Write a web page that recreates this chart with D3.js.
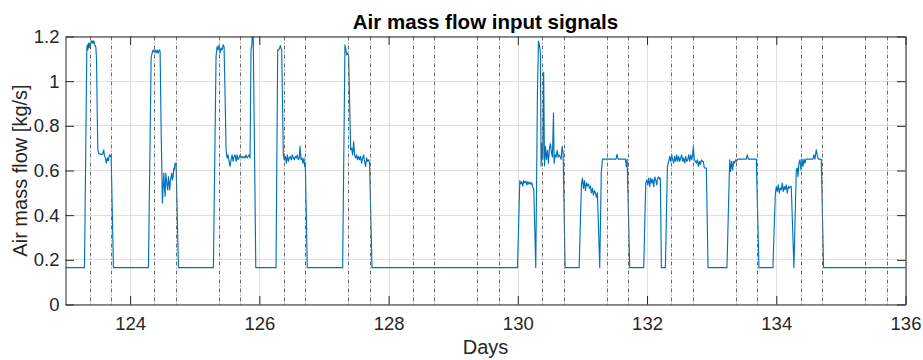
<!DOCTYPE html>
<html>
<head>
<meta charset="utf-8">
<script src="https://cdn.jsdelivr.net/npm/d3@7"></script>
<style>
  html, body { margin: 0; padding: 0; background: #fff; }
  svg { display: block; font-family: "Liberation Sans", Arial, Helvetica, sans-serif; }
</style>
</head>
<body>
<svg id="chart" width="923" height="360"></svg>
<script>
// Time stamps (days) of the air mass flow samples
const sampleDay = [
  123.000, 123.294,
  123.330, 123.338, 123.346, 123.354, 123.361, 123.369, 123.377, 123.385, 123.392, 123.400,
  123.408, 123.415, 123.423, 123.431, 123.439, 123.446, 123.454, 123.462, 123.470, 123.480,
  123.490, 123.500, 123.516, 123.531, 123.547, 123.562, 123.577, 123.593, 123.600, 123.608,
  123.619, 123.627, 123.634, 123.642, 123.650, 123.657, 123.665, 123.672, 123.680, 123.688,
  123.696, 123.706, 123.742, 124.284,
  124.325, 124.340, 124.356, 124.371, 124.387, 124.402, 124.418, 124.433, 124.449, 124.464,
  124.480, 124.500, 124.511, 124.521, 124.531, 124.542, 124.552, 124.562, 124.573, 124.583,
  124.593, 124.604, 124.614, 124.624, 124.635, 124.645, 124.655, 124.666, 124.676, 124.686,
  124.696, 124.712, 124.748, 125.289,
  125.330, 125.346, 125.361, 125.377, 125.392, 125.408, 125.423, 125.439, 125.454, 125.470,
  125.485, 125.501, 125.516, 125.532, 125.547, 125.563, 125.578, 125.594, 125.609, 125.624,
  125.640, 125.655, 125.671, 125.686, 125.702, 125.717, 125.733, 125.748, 125.763, 125.779,
  125.794, 125.810, 125.825, 125.841, 125.856, 125.871, 125.884, 125.894, 125.905, 125.945,
  126.258,
  126.284, 126.299, 126.315, 126.325, 126.335, 126.346, 126.371, 126.387, 126.402, 126.418,
  126.433, 126.449, 126.464, 126.480, 126.495, 126.511, 126.526, 126.541, 126.557, 126.572,
  126.588, 126.603, 126.619, 126.629, 126.645, 126.660, 126.675, 126.691, 126.701, 126.711,
  126.742, 127.289,
  127.325, 127.340, 127.351, 127.366, 127.382, 127.413, 127.428, 127.444, 127.459, 127.475,
  127.490, 127.505, 127.521, 127.536, 127.552, 127.567, 127.583, 127.598, 127.614, 127.629,
  127.644, 127.660, 127.675, 127.691, 127.706, 127.743, 129.995,
  130.031, 130.046, 130.062, 130.077, 130.093, 130.108, 130.124, 130.139, 130.155, 130.170,
  130.185, 130.201, 130.216, 130.232, 130.247, 130.278, 130.304, 130.320, 130.335, 130.350,
  130.360, 130.375, 130.387, 130.400, 130.413, 130.428, 130.443, 130.459, 130.474, 130.490,
  130.505, 130.521, 130.536, 130.552, 130.562, 130.577, 130.593, 130.608, 130.624, 130.639,
  130.655, 130.670, 130.686, 130.701, 130.732, 130.949,
  130.985, 131.000, 131.016, 131.031, 131.047, 131.062, 131.077, 131.093, 131.108, 131.124,
  131.139, 131.155, 131.170, 131.186, 131.201, 131.217, 131.232, 131.268, 131.292, 131.310,
  131.520, 131.536, 131.552, 131.665, 131.680, 131.692, 131.732, 131.949,
  131.980, 131.995, 132.011, 132.026, 132.042, 132.057, 132.073, 132.088, 132.104, 132.119,
  132.134, 132.150, 132.165, 132.181, 132.196, 132.206, 132.222, 132.284,
  132.315, 132.336, 132.351, 132.367, 132.382, 132.398, 132.413, 132.428, 132.444, 132.459,
  132.475, 132.490, 132.506, 132.521, 132.537, 132.552, 132.567, 132.583, 132.598, 132.614,
  132.629, 132.645, 132.660, 132.676, 132.691, 132.706, 132.717, 132.732, 132.748, 132.763,
  132.779, 132.794, 132.810, 132.825, 132.840, 132.856, 132.871, 132.887, 132.902, 132.918,
  132.944, 133.237,
  133.279, 133.294, 133.310, 133.325, 133.340, 133.356, 133.371, 133.387, 133.402, 133.536,
  133.552, 133.567, 133.691, 133.732, 133.948,
  133.985, 134.000, 134.016, 134.031, 134.047, 134.062, 134.078, 134.093, 134.108, 134.124,
  134.139, 134.155, 134.170, 134.186, 134.201, 134.217, 134.232, 134.273,
  134.310, 134.326, 134.336, 134.351, 134.367, 134.382, 134.398, 134.413, 134.429, 134.444,
  134.460, 134.568, 134.583, 134.598, 134.619, 134.634, 134.650, 134.696, 134.732, 136.000
];

// Air mass flow at each sample [kg/s]
const massFlow = [
  0.165, 0.165,
  1.150, 1.160, 1.140, 1.170, 1.150, 1.170, 1.150, 1.160, 1.170, 1.180,
  1.180, 1.170, 1.180, 1.170, 1.180, 1.170, 1.160, 1.160, 1.150, 1.100,
  0.880, 0.693, 0.675, 0.675, 0.672, 0.672, 0.675, 0.693, 0.670, 0.663,
  0.656, 0.640, 0.633, 0.650, 0.656, 0.645, 0.645, 0.660, 0.670, 0.665,
  0.663, 0.670, 0.165, 0.165,
  1.103, 1.126, 1.140, 1.130, 1.140, 1.126, 1.140, 1.125, 1.140, 1.135,
  0.780, 0.454, 0.528, 0.588, 0.528, 0.484, 0.588, 0.558, 0.528, 0.513,
  0.573, 0.543, 0.513, 0.558, 0.573, 0.588, 0.558, 0.573, 0.611, 0.603,
  0.633, 0.626, 0.165, 0.165,
  1.111, 1.155, 1.140, 1.163, 1.126, 1.148, 1.140, 1.163, 1.155, 0.931,
  0.693, 0.656, 0.670, 0.641, 0.618, 0.648, 0.670, 0.641, 0.663, 0.670,
  0.641, 0.670, 0.648, 0.656, 0.670, 0.656, 0.663, 0.656, 0.663, 0.656,
  0.670, 0.656, 0.663, 0.670, 0.656, 1.140, 1.160, 1.220, 1.210, 0.165,
  0.165,
  1.140, 1.140, 1.148, 1.160, 1.148, 1.140, 0.670, 0.648, 0.663, 0.633,
  0.670, 0.641, 0.656, 0.663, 0.648, 0.670, 0.656, 0.648, 0.663, 0.656,
  0.670, 0.648, 0.656, 0.708, 0.648, 0.656, 0.633, 0.656, 0.618, 0.633,
  0.165, 0.165,
  1.163, 1.140, 1.118, 1.126, 1.111, 0.693, 0.700, 0.670, 0.730, 0.670,
  0.656, 0.670, 0.648, 0.663, 0.648, 0.663, 0.633, 0.656, 0.670, 0.641,
  0.618, 0.656, 0.641, 0.648, 0.633, 0.165, 0.165,
  0.555, 0.540, 0.550, 0.530, 0.555, 0.545, 0.552, 0.535, 0.550, 0.540,
  0.548, 0.538, 0.545, 0.525, 0.515, 0.165, 0.950, 1.180, 1.160, 1.126,
  0.620, 0.720, 0.650, 1.040, 0.620, 0.708, 0.650, 0.690, 0.633, 0.700,
  0.720, 0.680, 0.660, 0.857, 0.633, 0.670, 0.660, 0.690, 0.660, 0.670,
  0.660, 0.650, 0.708, 0.680, 0.165, 0.165,
  0.540, 0.566, 0.520, 0.555, 0.510, 0.545, 0.530, 0.540, 0.520, 0.530,
  0.500, 0.520, 0.490, 0.510, 0.500, 0.480, 0.500, 0.165, 0.590, 0.651,
  0.651, 0.672, 0.651, 0.651, 0.618, 0.651, 0.165, 0.165,
  0.544, 0.558, 0.536, 0.566, 0.528, 0.566, 0.544, 0.561, 0.528, 0.571,
  0.558, 0.536, 0.566, 0.571, 0.561, 0.566, 0.165, 0.165,
  0.618, 0.641, 0.663, 0.641, 0.670, 0.648, 0.633, 0.663, 0.641, 0.670,
  0.641, 0.663, 0.641, 0.656, 0.670, 0.641, 0.656, 0.633, 0.663, 0.641,
  0.648, 0.670, 0.641, 0.670, 0.648, 0.670, 0.708, 0.648, 0.641, 0.633,
  0.648, 0.618, 0.641, 0.626, 0.648, 0.641, 0.641, 0.611, 0.611, 0.611,
  0.165, 0.165,
  0.648, 0.596, 0.641, 0.603, 0.641, 0.633, 0.648, 0.641, 0.651, 0.651,
  0.670, 0.651, 0.651, 0.165, 0.165,
  0.491, 0.528, 0.506, 0.536, 0.499, 0.521, 0.514, 0.544, 0.506, 0.528,
  0.514, 0.536, 0.499, 0.528, 0.521, 0.528, 0.528, 0.165,
  0.603, 0.611, 0.573, 0.633, 0.648, 0.603, 0.651, 0.618, 0.651, 0.633,
  0.651, 0.651, 0.670, 0.651, 0.693, 0.670, 0.651, 0.651, 0.165, 0.165
];

// Shift start / end markers (09:00 and 17:00 of each day)
const shiftMarkers = [
  123.375, 123.708, 124.375, 124.708, 125.375, 125.708, 126.375, 126.708,
  127.375, 127.708, 128.375, 128.708, 129.375, 129.708, 130.375, 130.708,
  131.375, 131.708, 132.375, 132.708, 133.375, 133.708, 134.375, 134.708,
  135.375, 135.708
];

const xTicks = [124, 126, 128, 130, 132, 134, 136];
const yTicks = [0, 0.2, 0.4, 0.6, 0.8, 1, 1.2];
const xDomain = [123, 136];
const yDomain = [0, 1.2];

const titleText = "Air mass flow input signals";
const xLabelText = "Days";
const yLabelText = "Air mass flow [kg/s]";

const plot = { left: 65.5, right: 905.5, top: 36.5, bottom: 304.5 };
const axisColor = "#262626";
const tickLen = 8.5;

const svg = d3.select("#chart");

const x = d3.scaleLinear().domain(xDomain).range([plot.left, plot.right]);
const y = d3.scaleLinear().domain(yDomain).range([plot.bottom, plot.top]);

svg.append("defs").append("clipPath").attr("id", "plot-clip")
  .append("rect")
  .attr("x", plot.left).attr("y", plot.top)
  .attr("width", plot.right - plot.left).attr("height", plot.bottom - plot.top);

// Grid
const grid = svg.append("g").attr("stroke", "#dfdfdf").attr("stroke-width", 1);
grid.selectAll("line.gx").data(xTicks).join("line")
  .attr("x1", d => Math.round(x(d)) + 0.5).attr("x2", d => Math.round(x(d)) + 0.5)
  .attr("y1", plot.top).attr("y2", plot.bottom);
grid.selectAll("line.gy").data(yTicks).join("line")
  .attr("class", "gy")
  .attr("x1", plot.left).attr("x2", plot.right)
  .attr("y1", d => Math.round(y(d) - 0.5) + 0.5).attr("y2", d => Math.round(y(d) - 0.5) + 0.5);

// Signal
const series = sampleDay.map((d, i) => [d, massFlow[i]]);
svg.append("path")
  .datum(series)
  .attr("clip-path", "url(#plot-clip)")
  .attr("fill", "none")
  .attr("stroke", "#0072BD")
  .attr("stroke-width", 1.15)
  .attr("stroke-linejoin", "round")
  .attr("d", d3.line().x(d => x(d[0])).y(d => y(d[1])));

// Shift markers
svg.append("g")
  .selectAll("line").data(shiftMarkers).join("line")
  .attr("x1", d => Math.round(x(d)) + 0.5).attr("x2", d => Math.round(x(d)) + 0.5)
  .attr("y1", plot.top).attr("y2", plot.bottom)
  .attr("stroke", "#6a6a6a")
  .attr("stroke-width", 1)
  .attr("stroke-dasharray", "4,2,1,2");

// Axes (ticks point inward, box on all four sides)
function styleAxis(g) {
  g.selectAll("path.domain").attr("stroke", axisColor);
  g.selectAll(".tick line").attr("stroke", axisColor);
  g.selectAll(".tick text").attr("fill", axisColor)
    .style("font-family", "'Liberation Sans', Arial, Helvetica, sans-serif")
    .style("font-size", "18.5px");
}

svg.append("g")
  .attr("transform", `translate(0,${plot.bottom})`)
  .call(d3.axisBottom(x).tickValues(xTicks).tickFormat(d3.format("d"))
    .tickSizeInner(-tickLen).tickSizeOuter(0).tickPadding(12.5))
  .call(styleAxis);

svg.append("g")
  .attr("transform", `translate(0,${plot.top})`)
  .call(d3.axisTop(x).tickValues(xTicks).tickFormat("")
    .tickSizeInner(-tickLen).tickSizeOuter(0))
  .call(styleAxis);

svg.append("g")
  .attr("transform", `translate(${plot.left},0)`)
  .call(d3.axisLeft(y).tickValues(yTicks).tickFormat(d => d3.format("~g")(d))
    .tickSizeInner(-tickLen).tickSizeOuter(0).tickPadding(6))
  .call(styleAxis);

svg.append("g")
  .attr("transform", `translate(${plot.right},0)`)
  .call(d3.axisRight(y).tickValues(yTicks).tickFormat("")
    .tickSizeInner(-tickLen).tickSizeOuter(0))
  .call(styleAxis);

// Titles
svg.append("text")
  .attr("x", (plot.left + plot.right) / 2).attr("y", 29)
  .attr("text-anchor", "middle")
  .attr("fill", "#000")
  .style("font-size", "20.5px").style("font-weight", "bold")
  .text(titleText);

svg.append("text")
  .attr("x", (plot.left + plot.right) / 2).attr("y", 354)
  .attr("text-anchor", "middle")
  .attr("fill", axisColor)
  .style("font-size", "20px")
  .text(xLabelText);

svg.append("text")
  .attr("transform", `translate(27,${(plot.top + plot.bottom) / 2}) rotate(-90)`)
  .attr("text-anchor", "middle")
  .attr("fill", axisColor)
  .style("font-size", "20px")
  .text(yLabelText);
</script>
</body>
</html>
